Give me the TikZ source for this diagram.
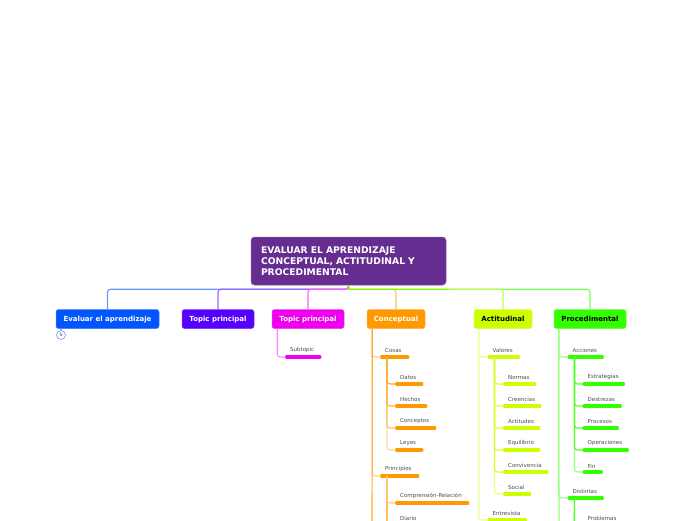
\documentclass[tikz,border=0pt]{standalone}
\usepackage{fontspec}
\setmainfont{DejaVu Sans}
\definecolor{rootc}{HTML}{662D91}
\definecolor{evalc}{HTML}{0055FF}
\definecolor{purplec}{HTML}{5500FF}
\definecolor{magc}{HTML}{EE00EE}
\definecolor{concc}{HTML}{FF9900}
\definecolor{actc}{HTML}{CCFF00}
\definecolor{procc}{HTML}{33FF00}
\tikzset{
  topic/.style={rounded corners=2.5pt, minimum height=19pt, inner sep=0pt, text height=5.2pt, text depth=1pt,
    font=\fontsize{7}{8}\selectfont\bfseries, fill=#1, draw=#1!75!white, line width=0.5pt},
  subtopic/.style n args={2}{anchor=south west, inner xsep=4.5pt, inner ysep=3.8pt,
    text width=#2pt-9pt, align=left, text=black!70, font=\fontsize{5.5}{6}\selectfont,
    append after command={(\tikzlastnode.south west) edge[draw=#1, line width=3.1pt, line cap=round, shorten >=1pt, shorten <=1pt] (\tikzlastnode.south east)}},
  conn/.style={rounded corners=3pt, line width=1.1pt, draw=#1}
}
\begin{document}
\begin{tikzpicture}[x=1pt,y=-1pt]
    \clip (0,0) rectangle (696,520);
    % root and main topics
    \node[fill=rootc, draw=rootc!80!white, line width=0.5pt, rounded corners=3.5pt, minimum width=195pt, minimum height=48pt,
      text width=175pt, inner sep=0pt, align=left, text=white, font=\fontsize{9.2}{11}\selectfont\bfseries] (root) at (348.5,261)
      {EVALUAR EL APRENDIZAJE\\CONCEPTUAL, ACTITUDINAL Y\\PROCEDIMENTAL};
    \node[topic=evalc, minimum width=103pt, text=white] (evaluar) at (107.5,319) {Evaluar el aprendizaje};
    \node[topic=purplec, minimum width=72pt, text=white] (topic1) at (218,319) {Topic principal};
    \node[topic=magc, minimum width=72pt, text=white] (topic2) at (308,319) {Topic principal};
    \node[topic=concc, minimum width=58pt, text=white] (conceptual) at (396,319) {Conceptual};
    \node[topic=actc, minimum width=58pt, text=black] (actitudinal) at (503,319) {Actitudinal};
    \node[topic=procc, minimum width=72pt, text=black] (procedimental) at (590,319) {Procedimental};
    \node[circle, draw=evalc!60!white, fill=white, line width=0.6pt, minimum size=9pt, inner sep=0pt,
      text=evalc!70!black, font=\fontsize{4.5}{5}\selectfont] (badge) at (61,335) {5};
    \node[subtopic={magc}{35}] (subtopic) at (285.5,357) {Subtopic};
    % Conceptual
    \node[subtopic={concc}{28}] (cosas) at (380.5,357) {Cosas};
    \node[subtopic={concc}{27}] (datos) at (395.5,384) {Datos};
    \node[subtopic={concc}{31}] (hechos) at (395.5,406) {Hechos};
    \node[subtopic={concc}{40}] (conceptos) at (395.5,428) {Conceptos};
    \node[subtopic={concc}{27}] (leyes) at (395.5,450) {Leyes};
    \node[subtopic={concc}{38}] (principios) at (380.5,476) {Principios};
    \node[subtopic={concc}{73}] (comprension) at (395.5,503) {Comprensión-Relación};
    \node[subtopic={concc}{30}] (diario) at (395.5,525) {Diario};
    % Actitudinal
    \node[subtopic={actc}{31}] (valores) at (488,357) {Valores};
    \node[subtopic={actc}{32}] (normas) at (503.5,384) {Normas};
    \node[subtopic={actc}{37}] (creencias) at (503.5,406) {Creencias};
    \node[subtopic={actc}{36}] (actitudes) at (503.5,428) {Actitudes};
    \node[subtopic={actc}{36}] (equilibrio) at (503.5,450) {Equilibrio};
    \node[subtopic={actc}{44}] (convivencia) at (503.5,472) {Convivencia};
    \node[subtopic={actc}{27}] (social) at (503.5,494) {Social};
    \node[subtopic={actc}{38}] (entrevista) at (488,520) {Entrevista};
    % Procedimental
    \node[subtopic={procc}{35}] (acciones) at (568,357) {Acciones};
    \node[subtopic={procc}{41}] (estrategias) at (583,384) {Estrategias};
    \node[subtopic={procc}{38}] (destrezas) at (583,406) {Destrezas};
    \node[subtopic={procc}{35}] (procesos) at (583,428) {Procesos};
    \node[subtopic={procc}{45}] (operaciones) at (583,450) {Operaciones};
    \node[subtopic={procc}{19}] (fin) at (583,472) {Fin};
    \node[subtopic={procc}{35}] (distintas) at (568,498) {Distintas};
    \node[subtopic={procc}{40}] (problemas) at (583,525) {Problemas};
    \coordinate (endconc) at (372,530);
    \coordinate (endprinc) at (387,530);
    \coordinate (enddist) at (574,530);
    \coordinate (endproc) at (559,530);
    % connectors from the root
    \draw[conn=evalc!60!white] (root.south) -- ++(0,4) -| (evaluar.north);
    \draw[conn=purplec!60!white] (root.south) -- ++(0,4) -| (topic1.north);
    \draw[conn=magc!60!white] (root.south) -- ++(0,4) -| (topic2.north);
    \draw[conn=procc!65!white] (root.south) -- ++(0,4) -| (procedimental.north);
    \draw[conn=actc!70!procc!70!white] (root.south) -- ++(0,4) -| (actitudinal.north);
    \draw[conn=concc!60!white] (root.south) -- ++(0,4) -| (conceptual.north);
    \draw[line width=1.1pt, draw=actc!45!procc] (root.south) -- ++(0,4) -- ++(100,0);
    % connectors below the topics
    \draw[conn=evalc!60!white] (evaluar.south west) ++(5,0) -- (badge);
    \draw[conn=magc!45!white] (topic2.south west) ++(5.5,0) |- (subtopic.south west);
    \draw[conn=concc!45!white] (conceptual.south west) ++(5.5,0) |- (cosas.south west);
    \draw[conn=concc!45!white] (conceptual.south west) ++(5.5,0) |- (principios.south west);
    \draw[conn=concc!80!white, rounded corners=0pt] (conceptual.south west) ++(5.5,0) -- (endconc);
    \draw[conn=concc!40!white] (cosas.south west) ++(6.5,0) |- (leyes.south west);
    \draw[conn=concc!60!white] (cosas.south west) ++(6.5,0) |- (conceptos.south west);
    \draw[conn=concc!75!white] (cosas.south west) ++(6.5,0) |- (hechos.south west);
    \draw[conn=concc!85!white] (cosas.south west) ++(6.5,0) |- (datos.south west);
    \draw[conn=concc!85!white, rounded corners=0pt] (principios.south west) ++(6.5,0) -- (endprinc);
    \draw[conn=concc!50!white] (principios.south west) ++(6.5,0) |- (comprension.south west);
    \draw[conn=concc!50!white] (principios.south west) ++(6.5,0) |- (diario.south west);
    \draw[conn=actc!40!white] (actitudinal.south west) ++(5,0) |- (valores.south west);
    \draw[conn=actc!40!white] (actitudinal.south west) ++(5,0) |- (entrevista.south west);
    \draw[conn=actc!50!white] (valores.south west) ++(6.5,0) |- (social.south west);
    \draw[conn=actc!80!white] (valores.south west) ++(6.5,0) |- (convivencia.south west);
    \draw[conn=actc!80!white] (valores.south west) ++(6.5,0) |- (equilibrio.south west);
    \draw[conn=actc!80!white] (valores.south west) ++(6.5,0) |- (actitudes.south west);
    \draw[conn=actc!80!white] (valores.south west) ++(6.5,0) |- (creencias.south west);
    \draw[conn=actc!80!white] (valores.south west) ++(6.5,0) |- (normas.south west);
    \draw[conn=procc!50!white] (procedimental.south west) ++(5,0) |- (acciones.south west);
    \draw[conn=procc!50!white] (procedimental.south west) ++(5,0) |- (distintas.south west);
    \draw[conn=procc!50!white] (procedimental.south west) ++(5,0) -- (endproc);
    \draw[conn=procc!50!white] (acciones.south west) ++(6.5,0) |- (fin.south west);
    \draw[conn=procc!85!white] (acciones.south west) ++(6.5,0) |- (operaciones.south west);
    \draw[conn=procc!85!white] (acciones.south west) ++(6.5,0) |- (procesos.south west);
    \draw[conn=procc!85!white] (acciones.south west) ++(6.5,0) |- (destrezas.south west);
    \draw[conn=procc!85!white] (acciones.south west) ++(6.5,0) |- (estrategias.south west);
    \draw[conn=procc!85!white] (distintas.south west) ++(6.5,0) |- (problemas.south west);
    \draw[conn=procc!85!white, rounded corners=0pt] (distintas.south west) ++(6.5,0) -- (enddist);
\end{tikzpicture}
\end{document}
